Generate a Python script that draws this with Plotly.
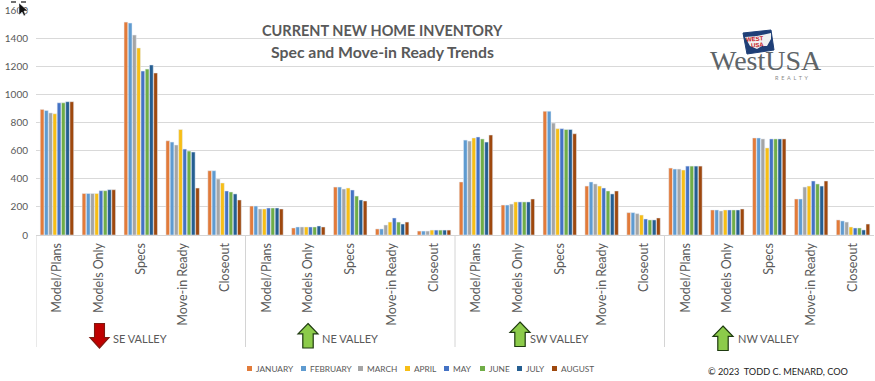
import plotly.graph_objects as go

regions = ["SE VALLEY", "NE VALLEY", "SW VALLEY", "NW VALLEY"]
types = ["Model/Plans", "Models Only", "Specs", "Move-in Ready", "Closeout"]
months = ["JANUARY", "FEBRUARY", "MARCH", "APRIL", "MAY", "JUNE", "JULY", "AUGUST"]
colors = ["#E27B3A", "#5F9BD0", "#A5A5A5", "#F7BE16", "#4472C4", "#70AD47", "#255E91", "#9E480E"]

january = [893, 295, 1514, 670, 457, 206, 50, 341, 43, 28, 377, 213, 880, 348, 159, 476, 178, 690, 256, 107]
february = [885, 295, 1507, 661, 457, 206, 57, 341, 43, 28, 675, 213, 880, 377, 159, 469, 178, 690, 256, 100]
march = [868, 295, 1422, 640, 398, 185, 57, 327, 71, 28, 668, 220, 796, 363, 152, 469, 171, 683, 341, 92]
april = [862, 295, 1330, 750, 370, 185, 57, 334, 92, 35, 690, 235, 756, 348, 142, 462, 178, 619, 348, 57]
may = [940, 315, 1166, 611, 313, 192, 57, 320, 121, 35, 697, 235, 756, 334, 114, 490, 178, 683, 384, 50]
june = [940, 315, 1180, 597, 306, 192, 57, 277, 92, 35, 683, 235, 750, 313, 107, 490, 178, 683, 363, 50]
july = [948, 322, 1209, 590, 292, 192, 64, 249, 78, 35, 661, 235, 750, 292, 107, 490, 178, 683, 348, 36]
august = [948, 322, 1152, 334, 249, 185, 57, 242, 92, 35, 711, 256, 720, 313, 121, 490, 185, 683, 384, 78]
series = [january, february, march, april, may, june, july, august]

W, H = 875, 381
L, R, T, B = 36, 1, 10, 146
PW, PH = W - L - R, H - T - B
TXT = "#595959"
FONT = "Lato"


def px(x):
    return (x - L) / PW


def py(y):
    return (H - B - y) / PH


def path(points, close=True):
    return "M" + " L".join(f"{px(x):.5f},{py(y):.5f}" for x, y in points) + (" Z" if close else "")


def note(x, y, text, size, color=TXT, family=FONT, xanchor="center", angle=0, xref="paper"):
    annotations.append(dict(x=x, y=py(y), xref=xref, yref="paper", text=text, showarrow=False,
                            xanchor=xanchor, yanchor="middle", textangle=angle,
                            font=dict(family=family, size=size, color=color)))


positions = list(range(len(regions) * len(types)))
labels = types * len(regions)

fig = go.Figure()
for name, vals, col in zip(months, series, colors):
    fig.add_bar(x=positions, y=vals, name=name, marker_color=col, showlegend=False)

shapes = []
annotations = []

# white box behind the logo
shapes.append(dict(type="rect", xref="paper", yref="paper", x0=px(697), x1=px(836), y0=py(85), y1=py(20),
                   fillcolor="white", line_width=0, layer="between"))

# group separators under the axis, placed on the category scale
for i in range(len(regions)):
    shapes.append(dict(type="line", xref="x", yref="paper", x0=i * 5 - 0.5, x1=i * 5 - 0.5,
                       y0=py(347), y1=py(235), line=dict(color="#D4D4D4", width=1)))

# region labels
label_x = [1.98, 6.99, 12.0, 16.99]
for g, t in zip(label_x, regions):
    note(g, 339, t, 11, xref="x")


# trend arrows
def arrow(x0, x1, y0, y1, up, fill, edge):
    w = x1 - x0
    cx = (x0 + x1) / 2
    s0 = cx - w * 0.26
    s1 = cx + w * 0.26
    if up:
        pts = [(cx, y0), (x1, y0 + (y1 - y0) * 0.42), (s1, y0 + (y1 - y0) * 0.42), (s1, y1), (s0, y1),
               (s0, y0 + (y1 - y0) * 0.42), (x0, y0 + (y1 - y0) * 0.42)]
    else:
        pts = [(cx, y1), (x1, y1 - (y1 - y0) * 0.42), (s1, y1 - (y1 - y0) * 0.42), (s1, y0), (s0, y0),
               (s0, y1 - (y1 - y0) * 0.42), (x0, y1 - (y1 - y0) * 0.42)]
    shapes.append(dict(type="path", xref="paper", yref="paper", path=path(pts), fillcolor=fill,
                       line=dict(color=edge, width=1.2)))


arrow(90, 109, 323.5, 348, False, "#C00000", "#7F1A10")
arrow(298, 318, 323.5, 348, True, "#8CCB4A", "#1E3A10")
arrow(510, 530, 322, 346.5, True, "#8CCB4A", "#1E3A10")
arrow(713, 733, 326, 350.5, True, "#8CCB4A", "#1E3A10")

# legend row
legend_x = [247, 301, 358, 405, 444, 480, 517, 552]
for xp, name, col in zip(legend_x, months, colors):
    shapes.append(dict(type="rect", xref="paper", yref="paper", x0=px(xp), x1=px(xp + 5), y0=py(371), y1=py(366),
                       fillcolor=col, line_width=0))
    note(px(xp + 7), 368.5, name, 8.3, xanchor="left")

# title and credit
note(px(382.5), 30.5, "<b>CURRENT NEW HOME INVENTORY</b>", 14.5)
note(px(382.5), 51.5, "<b>Spec and Move-in Ready Trends</b>", 15.8)
note(px(706), 371, "© 2023  TODD C. MENARD, COO", 9.2, color="#222222", xanchor="left")

# logo
shapes.append(dict(type="path", xref="paper", yref="paper",
                   path=path([(743, 33), (771, 30), (774, 50), (747, 54)]),
                   fillcolor="#1F3F77", line=dict(color="#1F3F77", width=1)))
shapes.append(dict(type="path", xref="paper", yref="paper",
                   path=path([(745, 37), (757, 36), (771, 33), (771, 39), (767, 46), (762, 46), (757, 49), (750, 46)]),
                   fillcolor="#F1F1F1", line_width=0))
note(px(755), 39.5, "<b>WEST</b>", 6, color="#C4161C", family="Liberation Sans", angle=-5)
note(px(757), 44.5, "<b>USA</b>", 6, color="#C4161C", family="Liberation Sans", angle=-5)
note(px(766), 60.5, "WestUSA", 28, color="#5E6468", family="Liberation Serif")
note(px(791), 78, "R  E  A  L  T  Y", 5.5, color="#8A8A8A")

# mouse cursor sitting over the top tick label
shapes.append(dict(type="path", xref="paper", yref="paper",
                   path=path([(19, 3), (19, 15), (22, 12), (24, 16), (25.5, 15), (24, 11), (28, 11)]),
                   fillcolor="#111111", line=dict(color="white", width=0.5)))
for seg in ([(11, 2), (16, 2)], [(21, 2), (26, 2)]):
    shapes.append(dict(type="path", xref="paper", yref="paper", path=path(seg, close=False),
                       line=dict(color="#111111", width=1.2)))

fig.update_layout(
    width=W,
    height=H,
    margin=dict(l=L, r=R, t=T, b=B, pad=0),
    paper_bgcolor="white",
    plot_bgcolor="white",
    barmode="group",
    bargap=0.19,
    bargroupgap=0.12,
    shapes=shapes,
    annotations=annotations,
    font=dict(family=FONT, color=TXT),
    xaxis=dict(
        tickmode="array",
        tickvals=positions,
        ticktext=labels,
        tickangle=-90,
        range=[-0.5, 19.5],
        ticks="",
        ticklen=0,
        ticklabelstandoff=2,
        showgrid=False,
        showline=True,
        linecolor="#D4D4D4",
        linewidth=1,
        tickfont=dict(family=FONT, size=12.5, color=TXT),
        automargin=False,
    ),
    yaxis=dict(
        range=[0, 1600],
        tickvals=[0, 200, 400, 600, 800, 1000, 1200, 1400, 1600],
        showgrid=True,
        gridcolor="#D9D9D9",
        gridwidth=1,
        zeroline=False,
        showline=False,
        ticks="",
        ticklabelstandoff=7,
        tickfont=dict(family=FONT, size=10, color=TXT),
        automargin=False,
    ),
)

fig.write_html("out.html", post_script="document.body.style.margin='0';", config=dict(displayModeBar=False))
